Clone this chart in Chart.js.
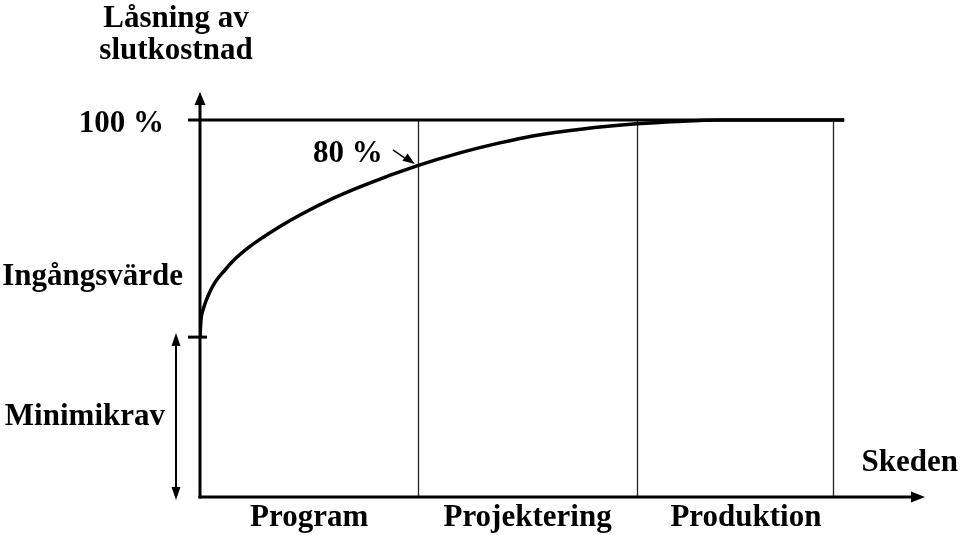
<!DOCTYPE html>
<html>
<head>
<meta charset="utf-8">
<script src="https://cdn.jsdelivr.net/npm/chart.js@4.4.1/dist/chart.umd.min.js"></script>
<style>
html,body{margin:0;padding:0;background:#fff;}
#wrap{width:960px;height:535px;}
</style>
</head>
<body>
<div id="wrap"><canvas id="c" width="960" height="535"></canvas></div>
<script>
// Phase categories and their boundaries on the x axis (phase units)
const phases = ["Program", "Projektering", "Produktion"];
const phaseCenters = [0.5, 1.5, 2.5];
const phaseBounds = [1, 2, 2.9];
const xAxisEnd = 3.32;

// Y axis: share of final cost locked (%)
const yLabels = { top: "100 %", entry: "Ingångsvärde", min: "Minimikrav" };
const fullLevel = 100;
const entryLevel = 42.4;
const yAxisEnd = 107.4;
const fullLineEnd = 2.95;

// Curve of locked cost
const curveX = [0, 0.0046, 0.0137, 0.0366, 0.0687, 0.1144, 0.1602, 0.2288, 0.2838, 0.3661, 0.4577, 0.6087, 0.7643, 0.9931, 1.19, 1.373, 1.524, 1.753, 2.0, 2.183, 2.38, 2.95];
const curveY = [42.4, 47.1, 49.6, 53.3, 56.9, 60.2, 63.1, 66.45, 68.7, 71.75, 74.8, 79.2, 83.0, 87.8, 91.25, 93.9, 95.75, 97.6, 98.95, 99.6, 100, 100];

// Annotation
const markLabel = "80 %";
const markX = 0.9931;
const markY = 87.8;

const titleLines = ["Låsning av", "slutkostnad"];
const xTitle = "Skeden";

const FONT = 'bold 31px "Liberation Serif", "Times New Roman", serif';

function arrowHead(ctx, x, y, dir, len, half) {
  ctx.beginPath();
  if (dir === 'up') { ctx.moveTo(x, y); ctx.lineTo(x - half, y + len); ctx.lineTo(x + half, y + len); }
  else if (dir === 'down') { ctx.moveTo(x, y); ctx.lineTo(x - half, y - len); ctx.lineTo(x + half, y - len); }
  else if (dir === 'right') { ctx.moveTo(x, y); ctx.lineTo(x - len, y - half); ctx.lineTo(x - len, y + half); }
  ctx.closePath();
  ctx.fill();
}

const decor = {
  id: 'decor',
  beforeDatasetsDraw(chart) {
    const ctx = chart.ctx;
    const xs = chart.scales.x, ys = chart.scales.y;
    const x0 = xs.getPixelForValue(0), y0 = ys.getPixelForValue(0);
    const yFull = ys.getPixelForValue(fullLevel);
    const yEntry = ys.getPixelForValue(entryLevel);
    ctx.save();
    ctx.fillStyle = '#000';
    // phase boundary lines
    ctx.lineWidth = 1.3;
    ctx.strokeStyle = '#222';
    phaseBounds.forEach(b => {
      const px = Math.round(xs.getPixelForValue(b)) + 0.5;
      ctx.beginPath(); ctx.moveTo(px, yFull); ctx.lineTo(px, y0); ctx.stroke();
    });
    ctx.strokeStyle = '#000';
    // 100% line
    ctx.lineWidth = 3;
    ctx.beginPath(); ctx.moveTo(x0 - 12, yFull); ctx.lineTo(xs.getPixelForValue(fullLineEnd), yFull); ctx.stroke();
    // entry tick
    ctx.beginPath(); ctx.moveTo(x0 - 12, yEntry); ctx.lineTo(x0 + 7, yEntry); ctx.stroke();
    // y axis
    const yTop = ys.getPixelForValue(yAxisEnd);
    ctx.beginPath(); ctx.moveTo(x0, y0 + 1.5); ctx.lineTo(x0, yTop + 10); ctx.stroke();
    arrowHead(ctx, x0, yTop, 'up', 13, 5.5);
    // x axis
    const xEnd = xs.getPixelForValue(xAxisEnd);
    ctx.beginPath(); ctx.moveTo(x0 - 1.5, y0); ctx.lineTo(xEnd - 10, y0); ctx.stroke();
    arrowHead(ctx, xEnd, y0, 'right', 14, 5.5);
    // minimum requirement double arrow
    const ax = x0 - 24;
    ctx.lineWidth = 2;
    ctx.beginPath(); ctx.moveTo(ax, yEntry + 8); ctx.lineTo(ax, y0 - 6); ctx.stroke();
    arrowHead(ctx, ax, yEntry - 4, 'up', 13, 4.5);
    arrowHead(ctx, ax, y0 + 3, 'down', 13, 4.5);
    // annotation arrow
    const mx = xs.getPixelForValue(markX), my = ys.getPixelForValue(markY);
    ctx.lineWidth = 1.5;
    ctx.beginPath(); ctx.moveTo(mx - 24, my - 16); ctx.lineTo(mx - 8, my - 5); ctx.stroke();
    ctx.save();
    ctx.translate(mx - 2, my - 2);
    ctx.rotate(Math.atan2(11, 16));
    ctx.beginPath(); ctx.moveTo(0, 0); ctx.lineTo(-12, -4.5); ctx.lineTo(-12, 4.5); ctx.closePath(); ctx.fill();
    ctx.restore();
    ctx.restore();
  },
  afterDraw(chart) {
    const ctx = chart.ctx;
    const xs = chart.scales.x, ys = chart.scales.y;
    const x0 = xs.getPixelForValue(0), y0 = ys.getPixelForValue(0);
    ctx.save();
    ctx.fillStyle = '#000';
    ctx.font = FONT;
    ctx.textBaseline = 'middle';
    // title
    ctx.textAlign = 'center';
    ctx.fillText(titleLines[0], x0 - 24, 19);
    ctx.fillText(titleLines[1], x0 - 24, 51);
    // y labels
    ctx.textAlign = 'right';
    ctx.fillText(yLabels.top, x0 - 36, ys.getPixelForValue(fullLevel) + 4);
    ctx.fillText(yLabels.entry, x0 - 17, 277);
    ctx.fillText(yLabels.min, x0 - 35, 417);
    // phase labels
    ctx.textAlign = 'center';
    phases.forEach((p, i) => ctx.fillText(p, xs.getPixelForValue(phaseCenters[i]), y0 + 21));
    // x title
    ctx.textAlign = 'right';
    ctx.fillText(xTitle, 958, 463);
    // mark label
    ctx.textAlign = 'right';
    ctx.fillText(markLabel, xs.getPixelForValue(markX) - 34, ys.getPixelForValue(markY) - 12);
    ctx.restore();
  }
};

new Chart(document.getElementById('c'), {
  type: 'line',
  data: {
    datasets: [{
      data: curveX.map((x, i) => ({ x: x, y: curveY[i] })),
      borderColor: '#000',
      borderWidth: 3.5,
      pointRadius: 0,
      fill: false,
      cubicInterpolationMode: 'monotone'
    }]
  },
  options: {
    responsive: false,
    animation: false,
    devicePixelRatio: 1,
    layout: { padding: { left: 200, right: 35, top: 92, bottom: 38 } },
    plugins: { legend: { display: false }, tooltip: { enabled: false } },
    scales: {
      x: { type: 'linear', min: 0, max: xAxisEnd, display: false },
      y: { type: 'linear', min: 0, max: yAxisEnd, display: false }
    }
  },
  plugins: [decor]
});
</script>
</body>
</html>
